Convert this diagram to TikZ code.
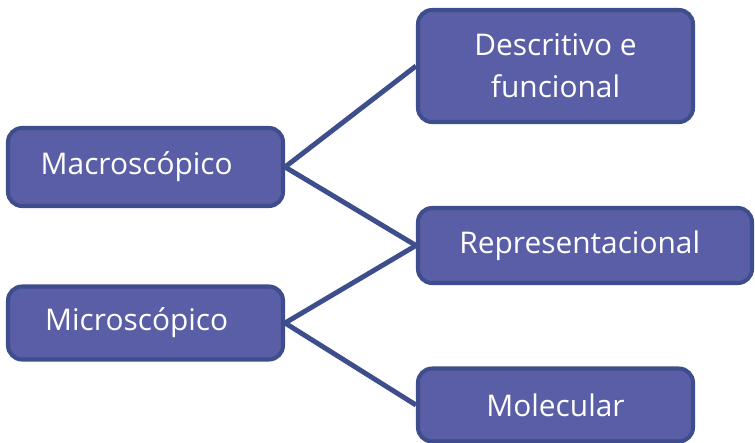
\documentclass[tikz,border=0pt]{standalone}
\usepackage{fontspec}
\setmainfont{Open Sans}
\usetikzlibrary{positioning}
\definecolor{boxfill}{HTML}{5A5EA6}
\definecolor{boxline}{HTML}{3E4D8B}
\tikzset{
	levelbox/.style={draw=boxline, fill=boxfill, line width=2.3pt, rounded corners=8pt,
		text=white, align=center, inner sep=0pt,
		font=\fontsize{17}{24}\selectfont},
	link/.style={draw=boxline, line width=2.8pt}
}
\begin{document}
\begin{tikzpicture}[x=0.02cm, y=-0.02cm]
			%%%%% START %%%%%
			\useasboundingbox (0, 0) rectangle (755, 443);
			
			\node[levelbox, minimum width=275*0.02cm, minimum height=78*0.02cm] (macro) at (145.5, 167) {Macroscópico\hspace{10pt}};
			\node[levelbox, minimum width=275*0.02cm, minimum height=73*0.02cm] (micro) at (145.5, 323) {Microscópico\hspace{10pt}};
			
			\node[levelbox, minimum width=275*0.02cm, minimum height=112*0.02cm] (desc) at (555.5, 66) {Descritivo e\\funcional};
			\node[levelbox, minimum width=334*0.02cm, minimum height=75*0.02cm] (repr) at (585, 245.5) {Representacional\hspace{6pt}};
			\node[levelbox, minimum width=275*0.02cm, minimum height=73*0.02cm] (mol) at (555.5, 405) {Molecular};
			
			\draw[link] (macro.east) -- (desc.west);
			\draw[link] (macro.east) -- (repr.west);
			\draw[link] (micro.east) -- (repr.west);
			\draw[link] (micro.east) -- (mol.west);
			
			%%%%% END %%%%%
\end{tikzpicture}
\end{document}
